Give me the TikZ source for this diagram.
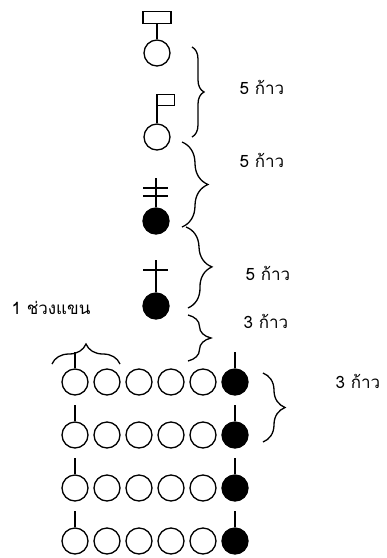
\documentclass[tikz,border=0pt]{standalone}
\usepackage{fontspec}
\newfontfamily\thaifont[Script=Thai]{Loma}
\usetikzlibrary{decorations.pathreplacing}
\begin{document}
\begin{tikzpicture}[x=1pt,y=-1pt, line width=1.3pt,
  ring/.style={circle,draw,minimum size=26pt,inner sep=0pt,line width=1.3pt},
  dot/.style={ring,fill=black},
  br/.style={decorate,decoration={brace,amplitude=#1}},
  lbl/.style={font=\thaifont\fontsize{17}{20}\selectfont, anchor=base west, inner sep=0pt}]
\useasboundingbox (0,0) rectangle (387,558);
% figure 1: rectangle sign
\node[ring] (f1) at (157,53) {};
\node[draw,minimum width=28pt,minimum height=12pt,inner sep=0pt,anchor=south] (sign) at (157,24) {};
\draw (sign.south) -- (f1.north);
% figure 2: flag
\node[ring] (f2) at (157,137) {};
\coordinate (pole) at (157,94);
\node[draw,minimum width=17pt,minimum height=11pt,inner sep=0pt,anchor=north west] (flag) at (157,94) {};
\draw (pole) -- (f2.north);
% figure 3: double cross
\node[dot] (f3) at (156,221) {};
\coordinate (t3) at (156,178);
\draw (t3) -- (f3.north);
\coordinate (h3a) at (143,188); \coordinate (h3b) at (168,188);
\coordinate (h3c) at (143,196); \coordinate (h3d) at (168,196);
\draw (h3a) -- (h3b); \draw (h3c) -- (h3d);
% figure 4: single cross
\node[dot] (f4) at (156,306) {};
\coordinate (t4) at (156,260);
\draw (t4) -- (f4.north);
\coordinate (h4a) at (143,270); \coordinate (h4b) at (168,270);
\draw (h4a) -- (h4b);
% rows
\foreach \r/\y in {1/382,2/435,3/488,4/541}{
  \foreach \c in {1,...,5} \node[ring] (c\r\c) at ({75+32*(\c-1)},\y) {};
  \node[dot] (c\r6) at (235,\y) {};
  \coordinate (s\r a) at (75,{\y-30});
  \coordinate (s\r b) at (235,{\y-30});
  \draw (s\r a) -- (c\r1.north);
  \draw (s\r b) -- (c\r6.north);
}
% braces
\coordinate (b1a) at (192,47);  \coordinate (b1b) at (192,137);
\coordinate (b2a) at (182,142); \coordinate (b2b) at (182,227);
\coordinate (b3a) at (186,227); \coordinate (b3b) at (188,308);
\coordinate (b4a) at (188,315); \coordinate (b4b) at (188,361);
\coordinate (b5a) at (263,373); \coordinate (b5b) at (263,442);
\coordinate (b6a) at (52,364);  \coordinate (b6b) at (120,364);
\draw[br=12] (b1a) -- (b1b);
\draw[br=26] (b2a) -- (b2b);
\draw[br=25] (b3a) -- (b3b);
\draw[br=23] (b4a) -- (b4b);
\draw[br=22] (b5a) -- (b5b);
\draw[br=20] (b6a) -- (b6b);
% labels
\node[lbl] (l1) at (239,94) {5 ก้าว};
\node[lbl] (l2) at (239,167) {5 ก้าว};
\node[lbl] (l3) at (245,280) {5 ก้าว};
\node[lbl] (l4) at (243,328) {3 ก้าว};
\node[lbl] (l5) at (335,388) {3 ก้าว};
\node[lbl] (l6) at (11,314) {1 ช่วงแขน};
\end{tikzpicture}
\end{document}
